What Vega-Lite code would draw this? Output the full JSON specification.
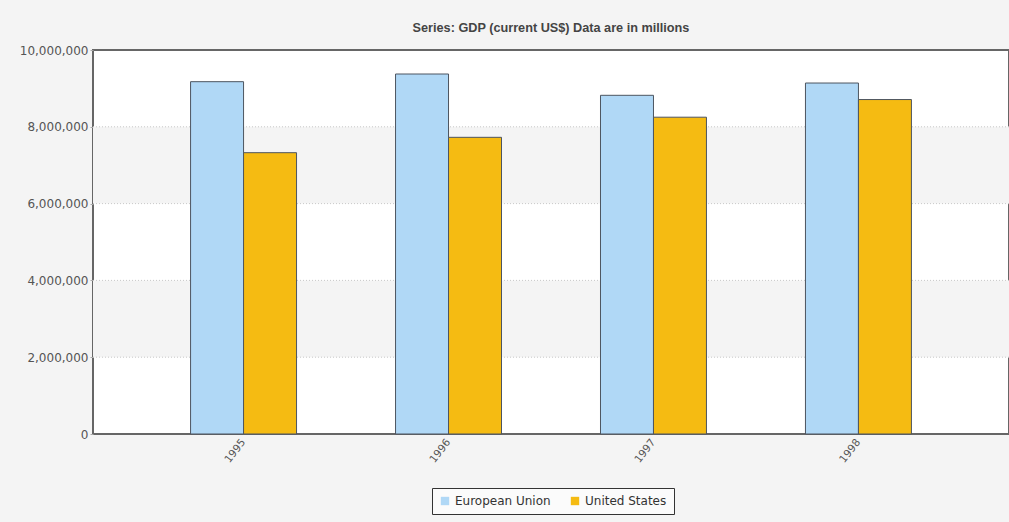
{
  "$schema": "https://vega.github.io/schema/vega-lite/v6.json",
  "autosize": {"type": "none"},
  "padding": {"left": 93, "top": 50, "right": 0, "bottom": 88},
  "width": 916,
  "height": 384,
  "background": "#f4f4f4",
  "title": {
    "text": "Series: GDP (current US$)  Data are in millions",
    "font": "Liberation Sans",
    "fontSize": 12.7,
    "fontWeight": "bold",
    "color": "#444444",
    "anchor": "middle",
    "offset": 9
  },
  "config": {
    "view": {"fill": "white", "stroke": "#666666", "strokeWidth": 2},
    "axis": {"labelFont": "DejaVu Sans", "labelColor": "#555555"},
    "axisY": {"title": null, "grid": false, "domain": false, "tickSize": 3, "tickColor": "#aaaaaa", "labelFontSize": 12, "labelPadding": 2}
  },
  "layer": [
    {
      "data": {"values": [{"lo": 2000000, "hi": 4000000}, {"lo": 6000000, "hi": 8000000}]},
      "mark": {"type": "rect", "fill": "#f4f4f4"},
      "encoding": {
        "y": {"field": "lo", "type": "quantitative", "scale": {"domain": [0, 10000000]}, "axis": {"format": ",.0f", "title": null, "values": [0, 2000000, 4000000, 6000000, 8000000, 10000000]}},
        "y2": {"field": "hi"}
      }
    },
    {
      "data": {"values": [{"v": 2000000}, {"v": 4000000}, {"v": 6000000}, {"v": 8000000}]},
      "mark": {"type": "rule", "color": "#c8c8c8", "strokeDash": [1, 2], "strokeWidth": 1},
      "encoding": {
        "y": {"field": "v", "type": "quantitative", "axis": {"format": ",.0f", "title": null, "values": [0, 2000000, 4000000, 6000000, 8000000, 10000000]}}
      }
    },
    {
      "data": {"values": [
        {"year": "1995", "country": "European Union", "gdp": 9175000},
        {"year": "1995", "country": "United States", "gdp": 7326000},
        {"year": "1996", "country": "European Union", "gdp": 9375000},
        {"year": "1996", "country": "United States", "gdp": 7726000},
        {"year": "1997", "country": "European Union", "gdp": 8820000},
        {"year": "1997", "country": "United States", "gdp": 8250000},
        {"year": "1998", "country": "European Union", "gdp": 9140000},
        {"year": "1998", "country": "United States", "gdp": 8710000}
      ]},
      "mark": {"type": "bar", "stroke": "#4d5560", "strokeWidth": 1},
      "encoding": {
        "x": {
          "field": "year", "type": "nominal",
          "scale": {"paddingInner": 0.483, "paddingOuter": 0.476},
          "axis": {"title": null, "labelAngle": -52, "labelAlign": "right", "labelBaseline": "middle", "ticks": false, "domain": false, "labelFontSize": 10.5, "labelPadding": 6}
        },
        "xOffset": {"field": "country", "type": "nominal", "scale": {"paddingInner": 0, "paddingOuter": 0}},
        "y": {
          "field": "gdp", "type": "quantitative",
          "scale": {"domain": [0, 10000000]},
          "axis": {"format": ",.0f", "title": null, "values": [0, 2000000, 4000000, 6000000, 8000000, 10000000]}
        },
        "color": {
          "field": "country", "type": "nominal",
          "scale": {"domain": ["European Union", "United States"], "range": ["#b0d8f6", "#f5bb12"]},
          "legend": {
            "title": null,
            "orient": "none",
            "legendX": 339,
            "legendY": 438,
            "direction": "horizontal",
            "strokeColor": "#333333",
            "fillColor": "#fbfbfb",
            "padding": 7,
            "symbolType": "square",
            "symbolSize": 70,
            "symbolStrokeWidth": 0,
            "labelFont": "DejaVu Sans",
            "labelFontSize": 12,
            "labelColor": "#333333",
            "columnPadding": 18
          }
        }
      }
    }
  ]
}
